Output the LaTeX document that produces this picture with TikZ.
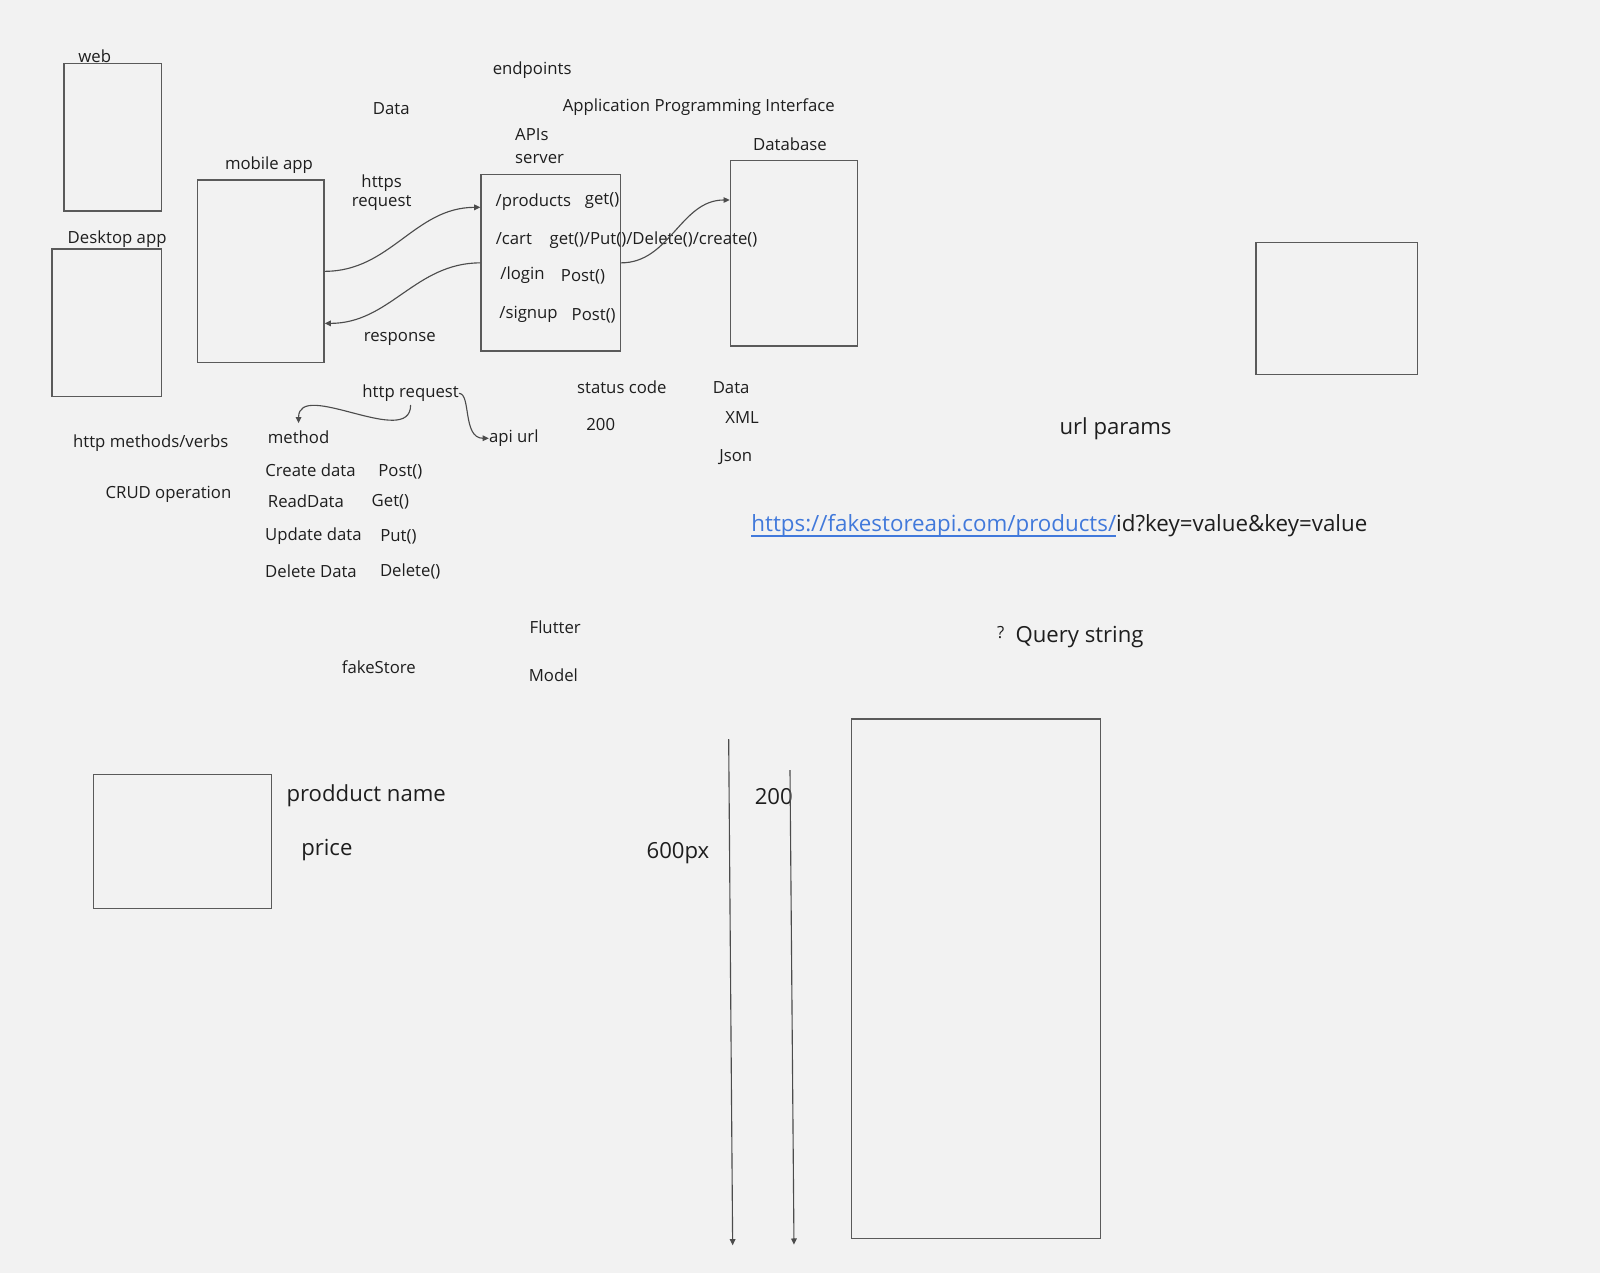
\documentclass[tikz,border=0pt]{standalone}
\usepackage{fontspec}
\setmainfont{Open Sans}
\usetikzlibrary{arrows.meta}
\definecolor{canvas}{HTML}{F2F2F2}
\definecolor{ink}{HTML}{1E1E1E}
\definecolor{edge}{HTML}{5A5A5A}
\definecolor{link}{HTML}{4179DB}
\newcommand\linkline[1]{\leavevmode\setbox0\hbox{#1}\rlap{\vrule height -4pt depth 5.5pt width \wd0}\box0}

\begin{document}
\begin{tikzpicture}
  [x=1pt,y=-1pt,
   every node/.style={inner sep=0pt,text=ink,font=\fontsize{16.4pt}{18.7pt}\selectfont},
   box/.style={draw=edge,line width=1.3pt},
   big/.style={font=\fontsize{21.7pt}{26pt}\selectfont},
   conn/.style={draw=edge!85!black,line width=1.1pt,-{Triangle[length=6pt,width=5.5pt]}}]
  \fill[canvas] (0,0) rectangle (1568,1247.6);
  \useasboundingbox (0,0) rectangle (1568,1247.6);

  \node[box,minimum width=95.2pt,minimum height=144.8pt] (web) at (110.4,134.4) {};
  \node[box,minimum width=107.2pt,minimum height=144.7pt] (desk) at (104.4,316.35) {};
  \node[box,minimum width=124pt,minimum height=179pt] (mobile) at (255.6,265.9) {};
  \node[box,minimum width=136.5pt,minimum height=172.8pt] (server) at (539.65,257.6) {};
  \node[box,minimum width=124.5pt,minimum height=181.6pt] (db) at (777.95,248.3) {};
  \node[box,minimum width=158.1pt,minimum height=129pt] (spare) at (1309.95,302.3) {};
  \node[box,minimum width=174.3pt,minimum height=131.3pt] (card) at (178.85,824.55) {};
  \node[box,minimum width=243.7pt,minimum height=509.3pt] (screen) at (956.45,959.25) {};

  \node (lweb) at (92.8,55.5) {web};
  \node (ldesk) at (114.8,234) {Desktop app};
  \node (lmobile) at (263.6,161.5) {mobile app};
  \node (endp) at (521.5,69) {endpoints};
  \node (ldata) at (383.4,106.2) {Data};
  \node (api) at (684.8,104.5) {Application Programming Interface};
  \node[anchor=west] (apis) at (504.7,131.5) {APIs};
  \node[anchor=west] (lserver) at (504.7,156) {server};
  \node (ldb) at (774.2,141.1) {Database};
  \node[align=center] (req) at (374,188.8) {https\\request};
  \node (resp) at (391.8,332) {response};

  \node (p1) at (522.7,197.7) {/products};
  \node (g1) at (590,196.5) {get()};
  \node (p2) at (503.6,233.6) {/cart};
  \node (g2) at (640.4,235.4) {get()/Put()/Delete()/create()};
  \node (p3) at (512,269.5) {/login};
  \node (g3) at (571.3,271.5) {Post()};
  \node (p4) at (518,308.5) {/signup};
  \node (g4) at (581.8,309.4) {Post()};

  \node (hreq) at (402.4,385.5) {http request};
  \node (meth) at (292.6,428.6) {method};
  \node (apiurl) at (503.5,429.5) {api url};
  \node (verbs) at (147.7,434) {http methods/verbs};
  \node (crud) at (165.1,484) {CRUD operation};
  \node (c1) at (304.3,460.5) {Create data};
  \node (o1) at (392.4,462.2) {Post()};
  \node (c2) at (299.8,491) {ReadData};
  \node (o2) at (382.6,491.6) {Get()};
  \node (c3) at (307.1,525.3) {Update data};
  \node (o3) at (390.5,526) {Put()};
  \node (c4) at (304.8,560) {Delete Data};
  \node (o4) at (402,560) {Delete()};

  \node (status) at (609.4,379.9) {status code};
  \node (code) at (588.7,415.9) {200};
  \node (fmt) at (716.5,379.9) {Data};
  \node (xml) at (727.3,409.3) {XML};
  \node (json) at (721,448) {Json};

  \node[big] (params) at (1093.2,420.5) {url params};
  \node[big,font=\fontsize{21.9pt}{26pt}\selectfont,anchor=base west] (url) at (736.2,520.5) {\textcolor{link}{\linkline{https://fakestoreapi.com/products/}}id?key=value\&key=value};
  \node (qmark) at (980.6,620) {?};
  \node[big] (query) at (1058,624) {Query string};

  \node (flutter) at (544.1,614.8) {Flutter};
  \node (model) at (542.3,661.5) {Model};
  \node (store) at (371.3,654) {fakeStore};
  \node[big] (pname) at (358.9,780) {prodduct name};
  \node[big] (price) at (320.3,833) {price};
  \node[big] (w600) at (664.4,836) {600px};
  \node[big] (w200) at (758.3,780.5) {200};

  \coordinate (a1) at (714.1,724.3);
  \coordinate (a1e) at (718,1220.4);
  \coordinate (a2) at (774.2,754.8);
  \coordinate (a2e) at (778.1,1219.7);

  \draw[conn] (mobile.east) to[out=0,in=180] ([yshift=54.4pt]server.west);
  \draw[conn] (server.west) to[out=180,in=0] ([yshift=-51pt]mobile.east);
  \draw[conn] (server.east) to[out=0,in=180] ([yshift=52.3pt]db.west);
  \draw[conn] ([yshift=-3pt]hreq.south) to[out=-90,in=90] ([yshift=7.4pt]meth.north);
  \draw[conn] (hreq.east) .. controls +(12,0) and +(-26,0) .. (apiurl.west);
\foreach \from/\to in
{a1/a1e, a2/a2e}
    \draw[conn] (\from) -- (\to);
\end{tikzpicture}
\end{document}
